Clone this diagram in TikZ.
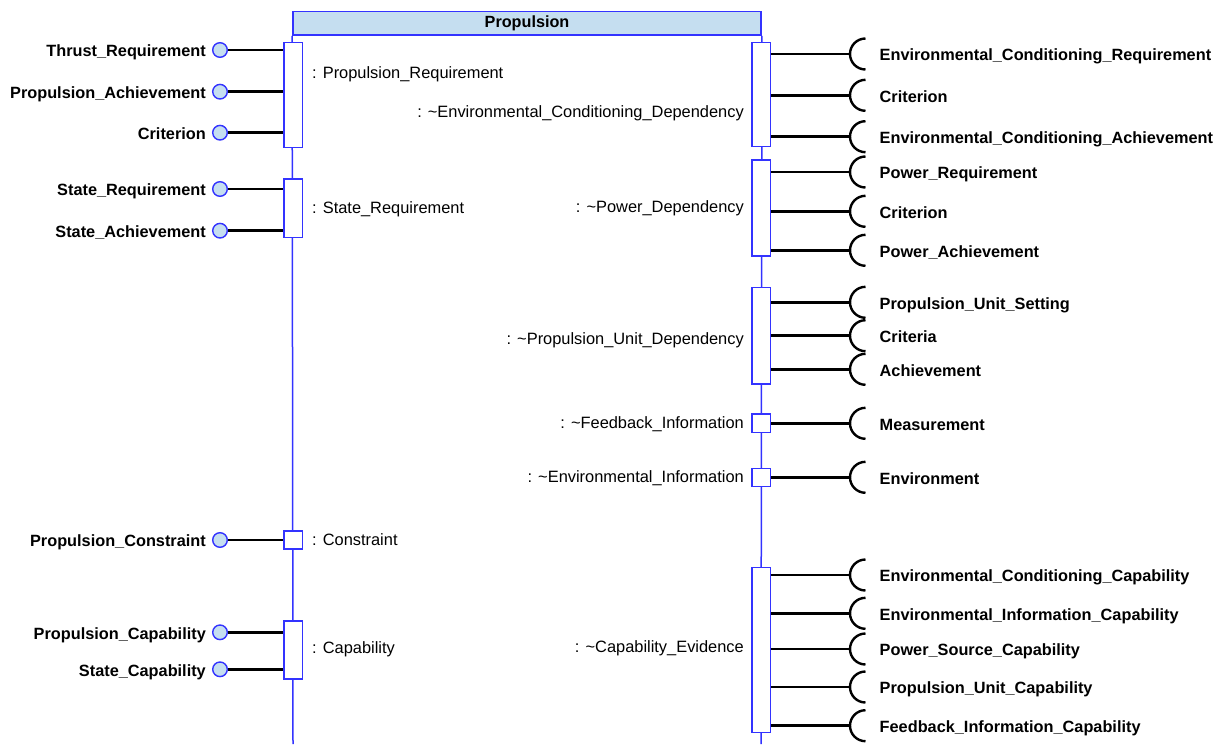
\documentclass[tikz,border=0pt]{standalone}
\usepackage{fontspec}
\setmainfont{Liberation Sans}
\definecolor{lineblue}{RGB}{51,51,255}
\definecolor{headfill}{RGB}{197,222,240}
\begin{document}
\begin{tikzpicture}[x=1pt,y=-1pt,
  life/.style={draw=lineblue, line width=1.5pt},
  pbox/.style={draw=lineblue, line width=1.5pt, fill=white, minimum width=18.5pt, inner sep=0pt},
  hdr/.style={draw=lineblue, line width=1.5pt, fill=headfill, inner sep=0pt,
    font=\fontsize{16.2}{19}\selectfont\bfseries},
  port/.style={circle, draw=lineblue, line width=1.4pt, fill=headfill, minimum size=14.6pt, inner sep=0pt},
  conn/.style={draw=black, line width=2.6pt},
  sock/.style={draw=black, line width=2.4pt},
  plabel/.style={inner sep=0pt, text height=11.7pt, text depth=0pt,
    font=\fontsize{16.3}{19}\selectfont\bfseries},
  blabel/.style={inner sep=0pt, text height=11.7pt, text depth=0pt,
    font=\fontsize{16.4}{19}\selectfont}]
\useasboundingbox (0,0) rectangle (1225,744);

% block header and its two lifelines
\node[hdr, minimum width=468.3pt, minimum height=23.3pt] (hdr) at (527,23.35) {Propulsion};
\coordinate (lbot) at (293,744);
\coordinate (rbot) at (761,744);
\draw[life] (hdr.south west) -- (lbot);
\draw[life] (hdr.south east) -- (rbot);

% interface boxes on the left lifeline
\node[pbox, minimum height=104.6pt] (L1) at (293,95) {};
\node[pbox, minimum height=58.3pt]  (L2) at (293,208.2) {};
\node[pbox, minimum height=18.3pt]  (L3) at (293,540) {};
\node[pbox, minimum height=58pt]    (L4) at (293,650) {};

% interface boxes on the right lifeline
\node[pbox, minimum height=104pt]   (R1) at (761,94.7) {};
\node[pbox, minimum height=96pt]    (R2) at (761,208) {};
\node[pbox, minimum height=96.3pt]  (R3) at (761,335.8) {};
\node[pbox, minimum height=18.3pt]  (R4) at (761,423.2) {};
\node[pbox, minimum height=18.3pt]  (R5) at (761,477.5) {};
\node[pbox, minimum height=165pt]   (R6) at (761,649.8) {};

% box labels
\node[blabel, anchor=west] (tL1) at (312,73)  {: Propulsion\_Requirement};
\node[blabel, anchor=west] (tL2) at (312,208) {: State\_Requirement};
\node[blabel, anchor=west] (tL3) at (312,540) {: Constraint};
\node[blabel, anchor=west] (tL4) at (312,648) {: Capability};
\node[blabel, anchor=east] (tR1) at (744,112) {: \textasciitilde Environmental\_Conditioning\_Dependency};
\node[blabel, anchor=east] (tR2) at (744,207) {: \textasciitilde Power\_Dependency};
\node[blabel, anchor=east] (tR3) at (744,339) {: \textasciitilde Propulsion\_Unit\_Dependency};
\node[blabel, anchor=east] (tR4) at (744,423) {: \textasciitilde Feedback\_Information};
\node[blabel, anchor=east] (tR5) at (744,477) {: \textasciitilde Environmental\_Information};
\node[blabel, anchor=east] (tR6) at (744,647) {: \textasciitilde Capability\_Evidence};

% provided interfaces (lollipops) on the left
\foreach \n/\b/\y/\t in {
  pa/L1/50/Thrust\_Requirement,
  pb/L1/91.7/Propulsion\_Achievement,
  pc/L1/132.7/Criterion,
  pd/L2/189/State\_Requirement,
  pe/L2/230.7/State\_Achievement,
  pf/L3/540/Propulsion\_Constraint,
  pg/L4/632.3/Propulsion\_Capability,
  ph/L4/669.3/State\_Capability}{
  \node[port] (\n) at (220,\y) {};
  \node[plabel, anchor=east] (\n t) at (206,\y+1) {\t};
  \draw[conn] (\n.east) -- (\b.west |- \n.east);
}

% required interfaces (sockets) on the right
\foreach \n/\b/\y/\t in {
  sa/R1/54/Environmental\_Conditioning\_Requirement,
  sb/R1/95.3/Criterion,
  sc/R1/136.7/Environmental\_Conditioning\_Achievement,
  sd/R2/172/Power\_Requirement,
  se/R2/211.3/Criterion,
  sf/R2/250.3/Power\_Achievement,
  sg/R3/302.3/Propulsion\_Unit\_Setting,
  sh/R3/335.7/Criteria,
  si/R3/369.3/Achievement,
  sj/R4/423.3/Measurement,
  sk/R5/477.3/Environment,
  sl/R6/575/Environmental\_Conditioning\_Capability,
  sm/R6/613.3/Environmental\_Information\_Capability,
  sn/R6/649/Power\_Source\_Capability,
  so/R6/687/Propulsion\_Unit\_Capability,
  sp/R6/725.7/Feedback\_Information\_Capability}{
  \coordinate (\n) at (850,\y);
  \node[plabel, anchor=west] (\n t) at (879.5,\y+1) {\t};
  \draw[conn] (\b.east |- \n) -- (\n);
  \draw[sock] (\n) arc[start angle=180, end angle=90, radius=15.5]
              (\n) arc[start angle=180, end angle=270, radius=15.5];
}
\end{tikzpicture}
\end{document}
